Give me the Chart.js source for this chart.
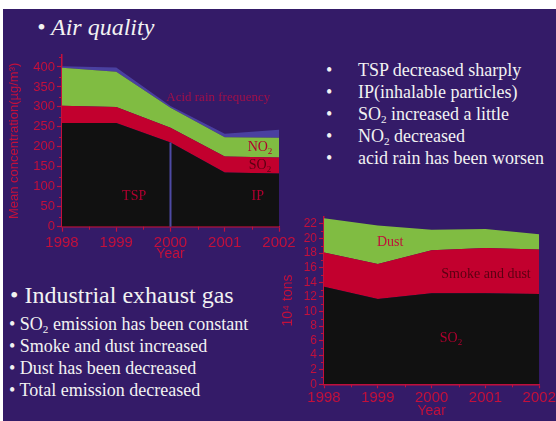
<!DOCTYPE html>
<html><head><meta charset="utf-8">
<script src="https://cdn.jsdelivr.net/npm/chart.js@4"></script>
<style>
html,body{margin:0;padding:0;background:#fff;width:556px;height:421px;overflow:hidden;position:relative}
#slide{position:absolute;left:3px;top:9px;width:553px;height:412px;background:#341b68}
.t{position:absolute;color:#f2f2f2;font-family:"Liberation Serif","Times New Roman",serif;white-space:nowrap}
.big{font-size:24px;line-height:28px}
.sm{font-size:18px;line-height:22px}
sub{font-size:0.62em;vertical-align:-0.28em;line-height:0}
canvas{position:absolute}
</style></head>
<body>
<div id="slide"></div>
<div class="t big" style="left:37px;top:13px;font-style:italic">• Air quality</div>

<div class="t sm" style="left:326px;top:59px">•</div><div class="t sm" style="left:358px;top:59px">TSP decreased sharply</div>
<div class="t sm" style="left:326px;top:81px">•</div><div class="t sm" style="left:358px;top:81px">IP(inhalable particles)</div>
<div class="t sm" style="left:326px;top:103px">•</div><div class="t sm" style="left:358px;top:103px">SO<sub>2</sub> increased a little</div>
<div class="t sm" style="left:326px;top:125px">•</div><div class="t sm" style="left:358px;top:125px">NO<sub>2</sub> decreased</div>
<div class="t sm" style="left:326px;top:147px">•</div><div class="t sm" style="left:358px;top:147px">acid rain has been worsen</div>

<div class="t big" style="left:10px;top:281px">• Industrial exhaust gas</div>
<div class="t sm" style="left:9px;top:313px">• SO<sub>2</sub> emission has been constant</div>
<div class="t sm" style="left:9px;top:335px">• Smoke and dust increased</div>
<div class="t sm" style="left:9px;top:357px">• Dust has been decreased</div>
<div class="t sm" style="left:9px;top:379px">• Total emission decreased</div>

<canvas id="cL" width="300" height="215" style="left:0px;top:50px"></canvas>
<canvas id="cR" width="276" height="216" style="left:280px;top:205px"></canvas>

<script>
// ---- data ----
const years = ['1998','1999','2000','2001','2002'];
// Air quality (stacked, µg/m3)
const tspIp = [260, 260, 211, 136, 133];
const so2Air = [43, 40, 37, 40, 40];
const no2Air = [95, 88, 50, 48, 50];
const acidRain = [4, 11, 4, 9, 20];
const airTicks = [0, 50, 100, 150, 200, 250, 300, 350, 400];
// Industrial exhaust gas (stacked, 10^4 tons)
const so2Emis = [13.4, 11.7, 12.5, 12.5, 12.4];
const smokeDust = [4.7, 4.8, 5.9, 6.2, 6.1];
const dustEmis = [4.7, 5.3, 2.8, 2.6, 2.1];
const gasTicks = [0, 2, 4, 6, 8, 10, 12, 14, 16, 18, 20, 22];

const RED = '#c3103c';
const SANS = '"Liberation Sans", Arial, sans-serif';
const SERIF = '"Liberation Serif", "Times New Roman", serif';

function drawLabel(ctx, text, sub, cx, cy, size, color){
  ctx.font = size + 'px ' + SERIF;
  const w1 = ctx.measureText(text).width;
  const subSize = Math.round(size*0.65);
  let w2 = 0;
  if (sub){ ctx.font = subSize + 'px ' + SERIF; w2 = ctx.measureText(sub).width; }
  const x0 = cx - (w1 + w2)/2;
  ctx.fillStyle = color;
  ctx.textBaseline = 'middle';
  ctx.textAlign = 'left';
  ctx.font = size + 'px ' + SERIF;
  ctx.fillText(text, x0, cy);
  if (sub){ ctx.font = subSize + 'px ' + SERIF; ctx.fillText(sub, x0 + w1, cy + size*0.32); }
}

const annot = {
  id: 'annot',
  afterDatasetsDraw(chart, args, opts){
    const {ctx, scales:{x, y}} = chart;
    ctx.save();
    if (opts.divider){
      const d = opts.divider;
      const px = x.getPixelForValue(d.index);
      ctx.strokeStyle = d.color; ctx.lineWidth = d.width;
      ctx.beginPath();
      ctx.moveTo(px, y.getPixelForValue(0));
      ctx.lineTo(px, y.getPixelForValue(d.top));
      ctx.stroke();
    }
    (opts.labels || []).forEach(a => {
      drawLabel(ctx, a.text, a.sub, x.getPixelForValue(a.x), y.getPixelForValue(a.y), a.size, a.color);
    });
    // minor ticks
    ctx.strokeStyle = RED; ctx.lineWidth = 1;
    const yt = opts.yMinor, len = 3;
    for (let v = yt.start; v < yt.end; v += yt.step){
      const py = Math.round(y.getPixelForValue(v)) + 0.5;
      ctx.beginPath(); ctx.moveTo(x.left, py); ctx.lineTo(x.left - len, py); ctx.stroke();
    }
    for (let i = 0.5; i < years.length - 1; i += 1){
      const px = Math.round(x.getPixelForValue(i)) + 0.5;
      ctx.beginPath(); ctx.moveTo(px, y.bottom); ctx.lineTo(px, y.bottom + len); ctx.stroke();
    }
    ctx.restore();
  }
};

function axisX(fontSize, tickLen, tickPad, titlePad, h){
  return {
    offset: false,
    grid: {drawOnChartArea: false, color: RED, tickLength: tickLen, tickWidth: 1.2},
    border: {color: RED, width: 1.5},
    ticks: {color: RED, font: {family: SANS, size: fontSize}, padding: tickPad, maxRotation: 0, autoSkip: false},
    title: {display: true, text: 'Year', color: RED, font: {family: SANS, size: 14}, padding: {top: 0, bottom: titlePad}},
    afterFit(s){ s.height = h; s.paddingLeft = 0; s.paddingRight = 0; }
  };
}
function axisY(max, ticks, fontSize, title, titleSize, titlePad, w){
  return {
    stacked: true, min: 0, max: max,
    grid: {drawOnChartArea: false, color: RED, tickLength: 5, tickWidth: 1.2},
    border: {color: RED, width: 1.5},
    ticks: {color: RED, font: {family: SANS, size: fontSize}, padding: 2, autoSkip: false},
    afterBuildTicks(s){ s.ticks = ticks.map(v => ({value: v})); },
    title: {display: true, text: title, color: RED, font: {family: SANS, size: titleSize}, padding: {top: titlePad, bottom: 0}},
    afterFit(s){ s.width = w; s.paddingTop = 0; s.paddingBottom = 0; }
  };
}
const common = {
  responsive: false, animation: false, devicePixelRatio: 1,
  elements: {point: {radius: 0, hoverRadius: 0}, line: {borderWidth: 0, tension: 0}},
};

new Chart(document.getElementById('cL'), {
  type: 'line',
  data: {labels: years, datasets: [
    {label: 'TSP/IP', data: tspIp, backgroundColor: '#111111', fill: 'origin'},
    {label: 'SO2', data: so2Air, backgroundColor: '#c2002e', fill: '-1'},
    {label: 'NO2', data: no2Air, backgroundColor: '#80bc42', fill: '-1'},
    {label: 'Acid rain frequency', data: acidRain, backgroundColor: '#4a40a0', fill: '-1'}
  ]},
  options: Object.assign({}, common, {
    layout: {padding: {top: 5, right: 21, left: 0, bottom: 0}, autoPadding: false},
    plugins: {legend: {display: false}, tooltip: {enabled: false},
      annot: {
        divider: {index: 2, top: tspIp[2], color: '#4e4aa4', width: 2},
        yMinor: {start: 25, end: 430, step: 50},
        labels: [
          {text: 'Acid rain frequency', x: 2.88, y: 324, size: 13, color: '#a0104a'},
          {text: 'NO', sub: '2', x: 3.65, y: 200, size: 14, color: '#b0002e'},
          {text: 'SO', sub: '2', x: 3.65, y: 154, size: 14, color: '#5a0012'},
          {text: 'TSP', x: 1.33, y: 77, size: 14, color: '#b0002e'},
          {text: 'IP', x: 3.61, y: 75, size: 14, color: '#b0002e'}
        ]
      }
    },
    scales: {
      x: axisX(15, 5, 2, 2, 38.3),
      y: axisY(430, airTicks, 13, 'Mean concentration(µg/m³)', 13, 7, 62)
    }
  }),
  plugins: [annot]
});

new Chart(document.getElementById('cR'), {
  type: 'line',
  data: {labels: years, datasets: [
    {label: 'SO2', data: so2Emis, backgroundColor: '#111111', fill: 'origin'},
    {label: 'Smoke and dust', data: smokeDust, backgroundColor: '#c2002e', fill: '-1'},
    {label: 'Dust', data: dustEmis, backgroundColor: '#80bc42', fill: '-1'}
  ]},
  options: Object.assign({}, common, {
    layout: {padding: {top: 11.7, right: 16.7, left: 0, bottom: 0}, autoPadding: false},
    plugins: {legend: {display: false}, tooltip: {enabled: false},
      annot: {
        yMinor: {start: 1, end: 23, step: 2},
        labels: [
          {text: 'Dust', x: 1.23, y: 19.5, size: 14, color: '#c0103a'},
          {text: 'Smoke and dust', x: 3.01, y: 15.1, size: 14, color: '#5a0012'},
          {text: 'SO', sub: '2', x: 2.36, y: 6.35, size: 14, color: '#b0002e'}
        ]
      }
    },
    scales: {
      x: axisX(15, 4, 1, 1, 36.7),
      y: axisY(23, gasTicks, 12, '10⁴ tons', 14, 0, 44)
    }
  }),
  plugins: [annot]
});
</script>
</body></html>
